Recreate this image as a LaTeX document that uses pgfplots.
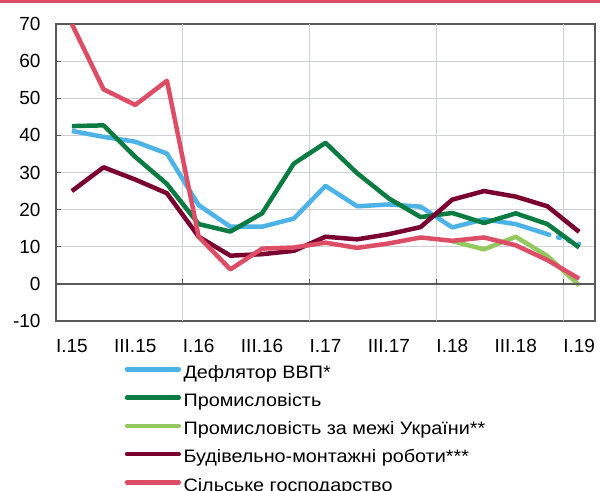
\documentclass[border=0pt]{standalone}
\usepackage{fontspec}
\setmainfont{Liberation Sans}
\newfontfamily\legfont{Liberation Sans}[FakeStretch=1.1]
\usepackage{pgfplots}
\usepackage{pgfplotstable}
\pgfplotsset{compat=1.18}
\definecolor{cblue}{HTML}{4DB3E6}
\definecolor{cgreen}{HTML}{0A7B41}
\definecolor{clgreen}{HTML}{93C85E}
\definecolor{cmaroon}{HTML}{7A0030}
\definecolor{cred}{HTML}{DD4D65}
\definecolor{axgray}{HTML}{595959}
\definecolor{gridgray}{HTML}{CDD1D4}
\pgfplotstableread{
i blue green lgreen maroon red
0 41.2 42.5 nan 25.0 70
1 39.6 42.7 nan 31.4 52.4
2 38.3 34.2 nan 28.1 48.2
3 35.1 26.9 nan 24.4 54.7
4 21.2 16.1 nan 12.7 12.7
5 15.4 14.1 nan 7.6 3.9
6 15.4 19.0 nan 8.0 9.5
7 17.6 32.4 nan 8.9 9.8
8 26.4 38.0 nan 12.7 11.1
9 20.9 29.8 nan 12.0 9.7
10 21.4 23.0 nan 13.4 10.9
11 20.8 18.0 nan 15.3 12.5
12 15.2 19.1 11.5 22.7 11.6
13 17.4 16.4 9.3 25.0 12.5
14 16.1 19.0 12.7 23.5 10.4
15 13.4 16.1 7.5 20.9 6.4
16 nan 9.8 -0.4 14.0 1.4
}\datatable
\begin{document}
\begin{tikzpicture}
\useasboundingbox (0,0) rectangle (600bp,-491bp);
\clip (0,0) rectangle (600bp,-491bp);
\draw[cred, line width=2bp] (0,-1.5bp) -- (600bp,-1.5bp);
\begin{axis}[
  at={(56bp,-321bp)}, anchor=south west,
  scale only axis, width=539bp, height=297bp,
  xmin=-0.5, xmax=16.5, ymin=-10, ymax=70,
  xtick={0,2,...,16},
  xticklabels={I.15,III.15,I.16,III.16,I.17,III.17,I.18,III.18,I.19},
  extra x ticks={3.5,7.5,11.5,15.5},
  extra x tick labels={},
  extra x tick style={xmajorgrids=true},
  xtick style={draw=none},
  ytick={-10,0,...,70},
  ytick pos=left,
  ytick style={axgray, line width=1.2bp},
  major tick length=5bp,
  tick align=inside,
  ymajorgrids=true,
  grid style={gridgray, line width=1bp},
  axis line style={axgray, line width=1.3bp},
  /pgf/number format/assume math mode=true,
  tick label style={font=\fontsize{19bp}{22bp}\selectfont, black},
  xticklabel style={yshift=-14.5bp},
  yticklabel style={xshift=-12bp},
  unbounded coords=jump,
  legend cell align=left,
  legend style={
    at={(axis description cs:0.1276,-0.1465)}, anchor=north west,
    draw=none, fill=none, inner sep=0pt, outer sep=0pt,
    row sep=10.8bp,
    font=\legfont\fontsize{18bp}{22bp}\selectfont,
    nodes={inner ysep=0pt, inner xsep=2.5bp, text height=13.5bp, text depth=4bp},
  },
  legend image code/.code={\draw[#1, line width=4.5bp, line cap=round, solid] (2.25bp,4bp) -- (54bp,4bp);},
  every axis plot/.append style={line width=4.5bp, line join=round},
]
\addplot[cblue] table[x=i, y=blue] {\datatable};
\addlegendentry{Дефлятор ВВП*}
\addplot[cblue, forget plot, dash pattern=on 2bp off 9bp, line cap=round] coordinates {(15,13.4) (16,10.8)};
\addplot[cgreen] table[x=i, y=green] {\datatable};
\addlegendentry{Промисловість}
\addplot[clgreen] table[x=i, y=lgreen] {\datatable};
\addlegendentry{Промисловість за межі України**}
\addplot[cmaroon] table[x=i, y=maroon] {\datatable};
\addlegendentry{Будівельно-монтажні роботи***}
\addplot[cred] table[x=i, y=red] {\datatable};
\addlegendentry{Сільське господарство}
\draw[axgray, line width=1.3bp] (axis cs:-0.5,0) -- (axis cs:16.5,0);
\draw[axgray, line width=1.2bp] (axis cs:3.5,0) -- ([yshift=5bp]axis cs:3.5,0);
\draw[axgray, line width=1.2bp] (axis cs:7.5,0) -- ([yshift=5bp]axis cs:7.5,0);
\draw[axgray, line width=1.2bp] (axis cs:11.5,0) -- ([yshift=5bp]axis cs:11.5,0);
\draw[axgray, line width=1.2bp] (axis cs:15.5,0) -- ([yshift=5bp]axis cs:15.5,0);
\end{axis}
\end{tikzpicture}
\end{document}
